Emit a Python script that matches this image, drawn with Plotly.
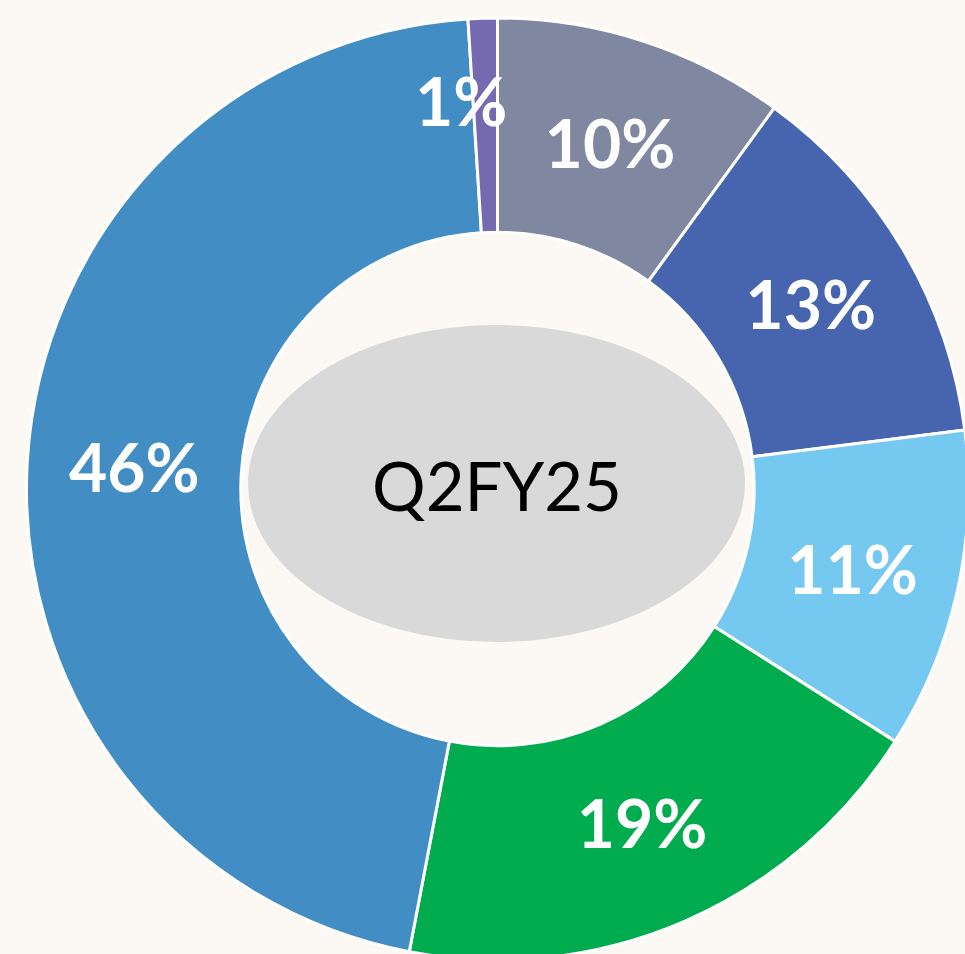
import math
import plotly.graph_objects as go

# slices, clockwise from 12 o'clock
segments = ["A", "B", "C", "D", "E", "F"]
shares = [10, 13, 11, 19, 46, 1]
labels = ["10%", "13%", "11%", "19%", "46%", "1%"]
colors = ["#7F88A0", "#4665AE", "#75C9F0", "#00AC4E", "#428DC3", "#7569B0"]
center_text = "Q2FY25"

# the donut runs a few px past the right/bottom edge of the 965x954 view,
# so the figure is drawn a little larger and the overflow is hidden
W, H = 972, 966
bg = "#FCF9F4"
label_font = dict(family="Lato", size=66, color="white", weight="bold")

# the 1% slice is too thin for its label; it gets an annotation instead
pie_text = [t if s >= 2 else "" for t, s in zip(labels, shares)]

cx, cy = 497.5, 489   # pie centre in px
r_out = 471


def px(x, y):
    return x / W, 1 - y / H


fig = go.Figure(go.Pie(
    labels=segments,
    values=shares,
    text=pie_text,
    textinfo="text",
    textposition="inside",
    insidetextorientation="horizontal",
    textfont=label_font,
    marker=dict(colors=colors, line=dict(color="white", width=3)),
    hole=0.545,
    sort=False,
    direction="clockwise",
    rotation=0,
    showlegend=False,
    domain=dict(
        x=[(cx - r_out) / W, (cx + r_out) / W],
        y=[1 - (cy + r_out) / H, 1 - (cy - r_out) / H],
    ),
))

total = sum(shares)
cum = 0
for s, t in zip(shares, labels):
    if s < 2:
        ang = math.radians((cum + s / 2) / total * 360)
        rr = 0.83 * r_out
        x, y = px(cx + rr * math.sin(ang), cy - rr * math.cos(ang))
        fig.add_annotation(
            x=x, y=y, xref="paper", yref="paper",
            text=t, showarrow=False, xanchor="right", yanchor="middle",
            xshift=24, yshift=-2, font=label_font,
        )
    cum += s

# grey ellipse in the hole
x0, y1 = px(248, 325)
x1, y0 = px(745, 642)
fig.add_shape(
    type="circle", xref="paper", yref="paper",
    x0=x0, x1=x1, y0=y0, y1=y1,
    fillcolor="#D9D9D9", line=dict(width=0), layer="above",
)
tx, ty = px(497, 485)
fig.add_annotation(
    x=tx, y=ty, xref="paper", yref="paper",
    text=center_text, showarrow=False,
    font=dict(family="Lato", size=67, color="black"),
)

fig.update_layout(
    width=W, height=H,
    margin=dict(l=0, r=0, t=0, b=0),
    paper_bgcolor=bg, plot_bgcolor=bg,
)

fig.write_html(
    "out.html",
    config={"displayModeBar": False},
    post_script=(
        "document.body.style.margin='0';"
        "document.body.style.background='%s';"
        "document.documentElement.style.overflow='hidden';"
        "document.body.style.overflow='hidden';" % bg
    ),
)
